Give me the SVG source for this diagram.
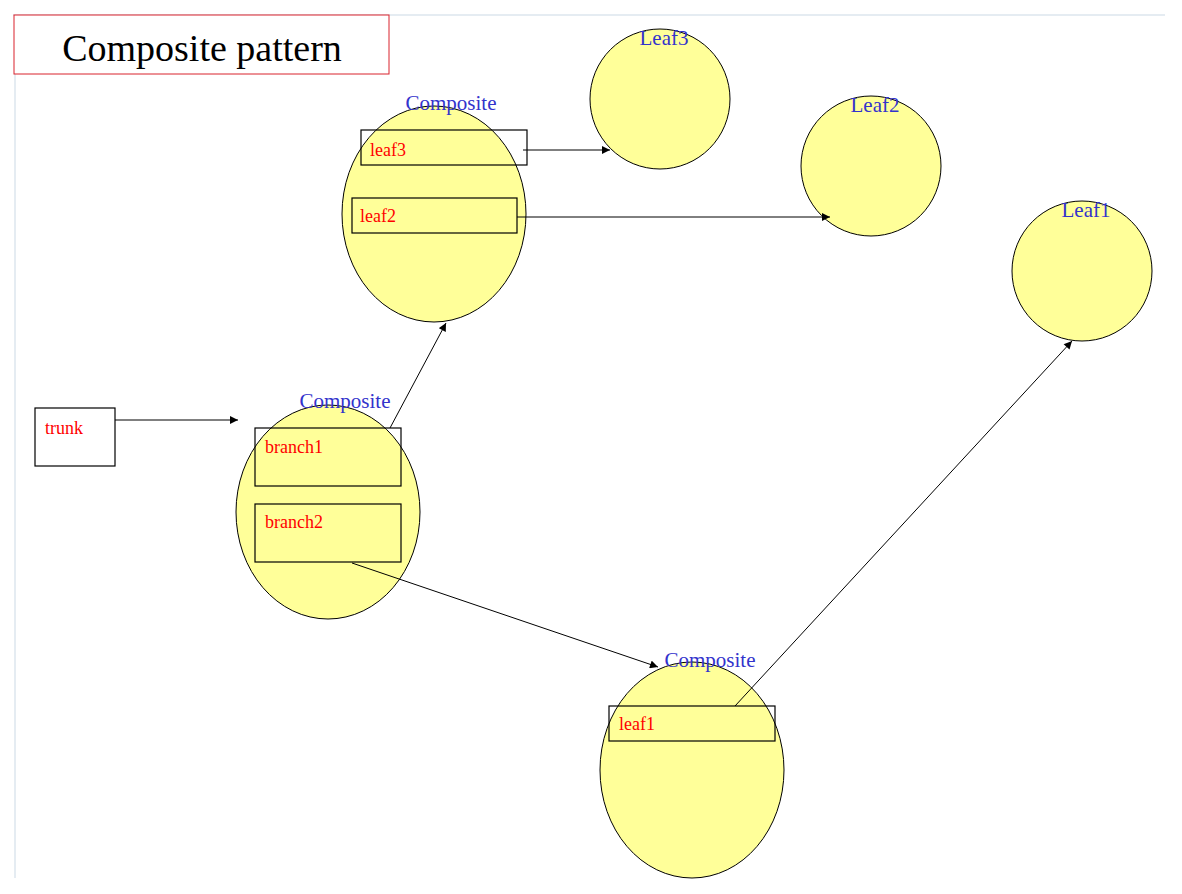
<svg xmlns="http://www.w3.org/2000/svg" width="1182" height="894" viewBox="0 0 1182 894">
<defs>
<style>
.node{fill:#ffff99;stroke:#000;stroke-width:1}
.box{fill:none;stroke:#000;stroke-width:1.2}
.lbl{font-family:"Liberation Serif",serif;font-size:21px;fill:#3333cc;text-anchor:middle}
.fld{font-family:"Liberation Serif",serif;font-size:18px;fill:#ff0000}
.ttl{font-family:"Liberation Serif",serif;font-size:38px;fill:#000;text-anchor:middle}
.conn{stroke:#000;stroke-width:1;fill:none;marker-end:url(#arr)}
</style>
<marker id="arr" viewBox="0 0 10 10" refX="10" refY="5" markerWidth="10" markerHeight="8" markerUnits="userSpaceOnUse" orient="auto">
<path d="M0,0 L10,5 L0,10 z" fill="#000"/>
</marker>
</defs>
<rect width="1182" height="894" fill="#fff"/>
<g id="frame" stroke="#dde6ee" stroke-width="1.5">
<line x1="13" y1="15" x2="1165" y2="15"/>
<line x1="15" y1="15" x2="15" y2="878"/>
</g>
<g id="title">
<rect x="14" y="15" width="375" height="59" fill="#fff" stroke="#d9232d" stroke-width="1"/>
<text class="ttl" x="202" y="61">Composite pattern</text>
</g>
<g id="leaf3">
<ellipse class="node" cx="660" cy="99" rx="70" ry="70"/>
<text class="lbl" x="664" y="45">Leaf3</text>
</g>
<g id="leaf2">
<ellipse class="node" cx="871" cy="166" rx="70" ry="70"/>
<text class="lbl" x="875" y="112">Leaf2</text>
</g>
<g id="leaf1">
<ellipse class="node" cx="1082" cy="271" rx="70" ry="70"/>
<text class="lbl" x="1086" y="217">Leaf1</text>
</g>
<g id="composite-top">
<ellipse class="node" cx="434" cy="214" rx="92" ry="108"/>
<text class="lbl" x="451" y="110">Composite</text>
<rect class="box" x="361" y="130" width="166" height="35"/>
<text class="fld" x="370" y="156">leaf3</text>
<rect class="box" x="352" y="198" width="165" height="35"/>
<text class="fld" x="360" y="222">leaf2</text>
</g>
<g id="composite-mid">
<ellipse class="node" cx="328" cy="512" rx="92" ry="107"/>
<text class="lbl" x="345" y="408">Composite</text>
<rect class="box" x="255" y="428" width="146" height="58"/>
<text class="fld" x="265" y="453">branch1</text>
<rect class="box" x="255" y="504" width="146" height="58"/>
<text class="fld" x="265" y="528">branch2</text>
</g>
<g id="trunk">
<rect class="box" x="35" y="408" width="80" height="58" fill="#fff"/>
<text class="fld" x="45" y="434">trunk</text>
</g>
<g id="composite-bottom">
<ellipse class="node" cx="692" cy="770" rx="92" ry="108"/>
<text class="lbl" x="710" y="667">Composite</text>
<rect class="box" x="609" y="706" width="166" height="35"/>
<text class="fld" x="619" y="730">leaf1</text>
</g>
<g id="connectors">
<line class="conn" x1="115" y1="420" x2="238" y2="420"/>
<line class="conn" x1="390" y1="428" x2="446" y2="323"/>
<line class="conn" x1="523" y1="150" x2="610" y2="150" stroke-width="2"/>
<line class="conn" x1="517" y1="217" x2="830" y2="217"/>
<line class="conn" x1="352" y1="563" x2="658" y2="667"/>
<line class="conn" x1="735" y1="706" x2="1072" y2="341"/>
</g>
</svg>
